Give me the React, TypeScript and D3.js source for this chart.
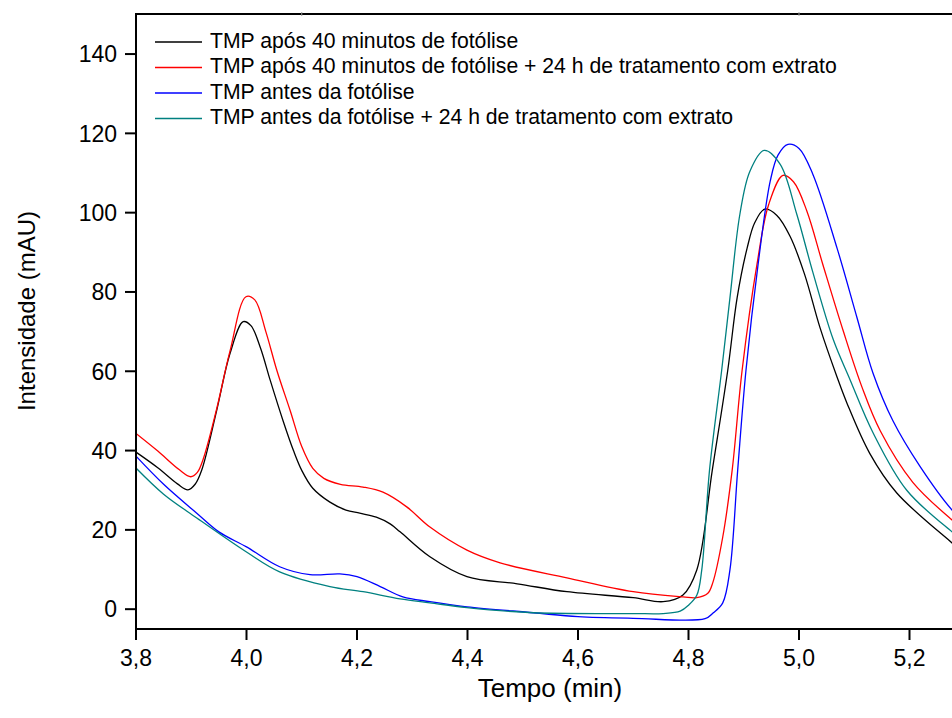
import React from "react";
import * as d3 from "d3";

const xTicks = [3.8, 4.0, 4.2, 4.4, 4.6, 4.8, 5.0, 5.2];
const yTicks = [0, 20, 40, 60, 80, 100, 120, 140];

const blackT = [3.80, 3.84, 3.875, 3.894, 3.907, 3.919, 3.946, 3.970, 3.994, 4.008, 4.025, 4.043, 4.066, 4.085, 4.10, 4.12, 4.151, 4.18, 4.205, 4.235, 4.26, 4.278, 4.332, 4.399, 4.49, 4.58, 4.70, 4.754, 4.79, 4.815, 4.843, 4.871, 4.888, 4.906, 4.92, 4.938, 4.96, 4.984, 5.01, 5.038, 5.069, 5.087, 5.128, 5.177, 5.277, 5.30];
const blackV = [39.6, 35.6, 31.6, 30.1, 31.5, 35.1, 50.1, 64.4, 72.5, 71.5, 66.0, 57.7, 47.6, 40.0, 35.0, 30.5, 27.0, 25.0, 24.2, 23.2, 21.5, 19.5, 13.2, 8.2, 6.4, 4.4, 2.9, 1.9, 3.6, 9.9, 35.0, 60.2, 78.5, 91.0, 97.5, 100.9, 99.3, 94.0, 84.5, 71.0, 58.5, 51.9, 39.3, 29.3, 16.7, 14.0];

const redT = [3.80, 3.84, 3.878, 3.899, 3.911, 3.922, 3.946, 3.970, 3.999, 4.015, 4.035, 4.055, 4.079, 4.10, 4.12, 4.14, 4.17, 4.211, 4.247, 4.29, 4.332, 4.399, 4.459, 4.58, 4.70, 4.79, 4.815, 4.835, 4.844, 4.862, 4.879, 4.897, 4.924, 4.945, 4.971, 4.99, 5.014, 5.043, 5.08, 5.114, 5.147, 5.206, 5.277, 5.30];
const redV = [44.3, 39.8, 35.2, 33.4, 34.5, 38.0, 50.5, 65.0, 78.8, 78.0, 70.0, 60.2, 50.1, 41.0, 35.5, 33.0, 31.5, 30.8, 29.5, 25.8, 20.7, 14.9, 11.7, 7.9, 4.4, 3.1, 2.9, 4.0, 6.7, 18.2, 35.0, 60.2, 87.0, 102.0, 109.4, 107.8, 100.5, 87.0, 70.2, 56.0, 45.0, 32.0, 22.5, 20.0];

const blueT = [3.80, 3.85, 3.91, 3.95, 4.0, 4.06, 4.115, 4.169, 4.2, 4.242, 4.283, 4.332, 4.399, 4.519, 4.60, 4.70, 4.83, 4.845, 4.862, 4.875, 4.889, 4.904, 4.926, 4.948, 4.962, 4.98, 5.0, 5.025, 5.069, 5.105, 5.134, 5.17, 5.219, 5.277, 5.30];
const blueV = [38.6, 31.5, 24.2, 19.5, 15.7, 10.7, 8.7, 8.9, 8.2, 5.7, 3.1, 1.9, 0.6, -0.9, -1.9, -2.3, -2.4, -0.9, 1.6, 9.9, 35.0, 60.2, 87.0, 108.0, 114.5, 117.2, 116.2, 109.7, 91.0, 73.5, 59.5, 47.5, 36.0, 25.0, 22.0];

const tealT = [3.80, 3.85, 3.91, 4.0, 4.06, 4.151, 4.211, 4.278, 4.332, 4.399, 4.519, 4.70, 4.754, 4.785, 4.80, 4.815, 4.824, 4.838, 4.86, 4.875, 4.893, 4.911, 4.937, 4.966, 4.996, 5.025, 5.062, 5.092, 5.134, 5.195, 5.277, 5.30];
const tealV = [35.6, 29.0, 23.0, 14.4, 9.4, 5.7, 4.4, 2.6, 1.6, 0.4, -0.9, -1.1, -1.1, -0.5, 1.0, 3.5, 9.9, 35.0, 60.2, 78.5, 99.6, 110.4, 115.7, 112.2, 99.6, 85.0, 68.0, 58.0, 44.5, 30.0, 19.5, 17.0];

const seriesNames = [
  "TMP após 40 minutos de fotólise",
  "TMP após 40 minutos de fotólise + 24 h de tratamento com extrato",
  "TMP antes da fotólise",
  "TMP antes da fotólise + 24 h de tratamento com extrato",
];
const seriesColors = ["#000000", "#ff0000", "#0000ff", "#008080"];
const seriesT = [blackT, redT, blueT, tealT];
const seriesV = [blackV, redV, blueV, tealV];

const W = 952;
const H = 718;
const left = 136;
const top = 14;
const bottom = 629;
const right = 964.75;
const FONT = "'Liberation Sans', Arial, Helvetica, sans-serif";

export default function App() {
  const x = d3.scaleLinear().domain([3.8, 5.3]).range([left, right]);
  const y = d3.scaleLinear().domain([-5, 150]).range([bottom, top + 0.4]);
  const line = d3
    .line<[number, number]>()
    .x((d) => x(d[0]))
    .y((d) => y(d[1]))
    .curve(d3.curveCatmullRom.alpha(0.5));

  return (
    <svg
      width={W}
      height={H}
      style={{ position: "absolute", left: 0, top: 0, display: "block", background: "#fff" }}
      fontFamily={FONT}
    >
      <defs>
        <clipPath id="plotclip">
          <rect x={left} y={top} width={right - left} height={bottom - top} />
        </clipPath>
      </defs>
      <rect x={0} y={0} width={W} height={H} fill="#fff" />

      <g clipPath="url(#plotclip)">
        {seriesT.map((ts, i) => {
          const pts: [number, number][] = ts.map((t, j) => [t, seriesV[i][j]]);
          return (
            <path
              key={i}
              d={line(pts) || ""}
              fill="none"
              stroke={seriesColors[i]}
              strokeWidth={1.3}
            />
          );
        })}
      </g>

      {/* axes */}
      <line x1={left} x2={W} y1={top} y2={top} stroke="#000" strokeWidth={2} />
      <line x1={left} x2={left} y1={top - 1} y2={bottom + 1} stroke="#000" strokeWidth={2} />
      <line x1={left - 1} x2={W} y1={bottom} y2={bottom} stroke="#000" strokeWidth={2} />
      {[4.1, 5.0].map((t) => (
        <line key={t} x1={x(t)} x2={x(t)} y1={top - 2} y2={top + 2} stroke="#999" strokeWidth={1} />
      ))}

      {xTicks.map((t) => (
        <g key={t}>
          <line x1={x(t)} x2={x(t)} y1={bottom} y2={bottom + 11} stroke="#000" strokeWidth={2} />
          <text x={x(t)} y={666} textAnchor="middle" fontSize={23} fill="#000">
            {t.toFixed(1).replace(".", ",")}
          </text>
        </g>
      ))}
      {yTicks.map((v) => (
        <g key={v}>
          <line x1={left - 11} x2={left} y1={y(v)} y2={y(v)} stroke="#000" strokeWidth={2} />
          <text x={117} y={y(v)} dy="0.36em" textAnchor="end" fontSize={23} fill="#000">
            {v}
          </text>
        </g>
      ))}

      <text x={550} y={697} textAnchor="middle" fontSize={26} fill="#000">
        Tempo (min)
      </text>
      <text
        transform={`translate(35,311) rotate(-90)`}
        textAnchor="middle"
        fontSize={24}
        fill="#000"
      >
        Intensidade (mAU)
      </text>

      {/* legend */}
      {seriesNames.map((name, i) => {
        const ly = 42 + i * 25.5;
        return (
          <g key={name}>
            <line x1={155} x2={202} y1={ly} y2={ly} stroke={seriesColors[i]} strokeWidth={1.3} />
            <text x={210} y={ly + 5.5} fontSize={21.2} fill="#000">
              {name}
            </text>
          </g>
        );
      })}
    </svg>
  );
}
